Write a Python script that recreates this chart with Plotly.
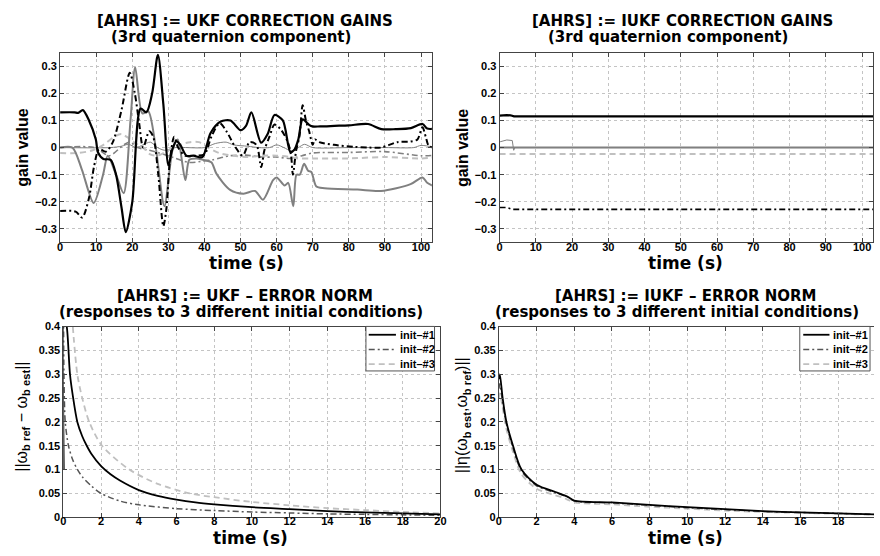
import plotly.graph_objects as go

# ---------------- data ----------------
# UKF correction gains (3rd quaternion component)
ukf_t1 = [0, 4, 5, 6.3, 8, 9.9, 10.5, 12, 14, 15.5, 17, 18.2, 20, 22.3, 23.9, 25.5, 27.1, 28.6, 30, 31, 32.2, 33.3, 35, 37, 39.4, 41.7, 44.5, 47.2, 50, 51.5, 53, 55.7, 57.5, 59.4, 61.7, 63.8, 64.9, 66, 67.2, 69, 69.9, 72, 76, 80, 85.3, 89, 93, 97.2, 100.4, 101.7, 104]
ukf_v1 = [0.13, 0.13, 0.128, 0.138, 0.1, 0.03, -0.018, -0.042, -0.045, -0.1, -0.22, -0.312, -0.2, 0.144, 0.13, 0.2, 0.342, 0.16, -0.066, -0.01, 0.024, 0.01, -0.03, -0.03, -0.035, 0.054, 0.096, 0.1, 0.064, 0.08, 0.13, 0.018, 0.05, 0.12, 0.1, -0.016, -0.008, 0.03, 0.104, 0.084, 0.078, 0.078, 0.08, 0.082, 0.087, 0.068, 0.068, 0.072, 0.087, 0.07, 0.07]

ukf_t2 = [0, 3.4, 6, 9.3, 11.9, 13.2, 15.5, 17.6, 19.5, 20.8, 22.8, 24.4, 26.5, 28.9, 31.2, 32.6, 34.7, 35.8, 37.7, 39.6, 41.9, 43.3, 47.1, 50.8, 54, 56.2, 59, 60, 62.2, 63.2, 64.6, 65.5, 66.4, 67.6, 68.7, 69.6, 71, 73.3, 82.4, 88.9, 97.1, 100.4, 101.7, 104]
ukf_v2 = [0, 0, -0.08, -0.204, -0.1, -0.03, -0.1, -0.168, 0.1, 0.296, 0.126, 0.134, 0.0, -0.216, -0.006, 0.03, -0.12, -0.045, -0.04, -0.045, -0.054, -0.096, -0.156, -0.17, -0.16, -0.192, -0.12, -0.11, -0.14, -0.13, -0.216, -0.1, -0.1, -0.06, -0.085, -0.09, -0.144, -0.15, -0.155, -0.16, -0.135, -0.11, -0.13, -0.145]

ukf_t3 = [0, 4.3, 6.1, 8, 9.4, 10.8, 12.7, 14.6, 17, 19.3, 20.7, 21.9, 23, 24.7, 25.8, 27.2, 28.6, 29.5, 30.4, 31.6, 32.7, 34.6, 37.7, 40, 41.9, 44.2, 46.1, 48.4, 50.6, 52.5, 54.4, 55.7, 56.6, 58, 59.4, 61.2, 63.1, 64, 64.5, 65.4, 66.3, 67.2, 68.1, 69, 70, 70.6, 71.8, 75.9, 81.4, 85.5, 88.9, 93.4, 97.1, 99, 100.4, 101.3, 102.2, 104]
ukf_v3 = [-0.234, -0.236, -0.258, -0.186, -0.07, -0.006, -0.015, 0.02, 0.138, 0.276, 0.2, 0.09, 0.0, 0.06, 0.04, -0.1, -0.29, -0.22, -0.05, 0.04, 0.0, -0.03, -0.03, -0.025, 0.04, 0.09, 0.06, 0.005, -0.03, 0.02, 0.01, -0.072, -0.01, 0.04, 0.085, 0.066, 0.02, -0.03, -0.1, -0.01, 0.04, 0.156, 0.1, 0.06, 0.01, 0.03, 0.02, 0.01, 0.003, 0.0, 0.0, 0.02, 0.022, 0.03, 0.075, 0.04, 0.005, 0.0]

ukf_t4 = [0, 14, 17, 19, 21, 23, 25, 27, 29, 32, 40, 43, 46, 48, 52, 55, 58, 60, 62, 64, 66, 67.7, 70, 80, 90, 98, 100, 104]
ukf_v4 = [0, 0, 0.005, 0.012, 0.0, 0.01, 0.02, 0.0, -0.01, 0.0, 0.0, 0.015, 0.02, 0.01, 0.005, 0.0, 0.0, 0.01, 0.0, -0.012, 0.0, 0.012, 0.0, 0.0, 0.0, 0.0, 0.008, 0.0]

ukf_t5 = [0, 5, 9, 12, 15, 17, 19, 21, 23, 25, 27, 30, 33, 36, 38.5, 41, 44, 48, 52, 56, 60, 64, 66, 70, 75, 80, 90, 100, 104]
ukf_v5 = [-0.02, -0.02, -0.01, 0.01, 0.04, 0.05, 0.035, 0.015, 0.0, -0.025, -0.03, -0.01, 0.01, 0.02, 0.02, 0.0, -0.02, -0.03, -0.035, -0.03, -0.03, -0.035, -0.04, -0.04, -0.04, -0.04, -0.035, -0.04, -0.035]

ukf_t6 = [0, 9.6, 13.6, 17.6, 19.4, 21.5, 24.7, 27.5, 32.1, 35.8, 39.6, 42.3, 47, 51.6, 56, 60, 64, 67, 70, 80, 90, 100, 104]
ukf_v6 = [0, 0, -0.03, 0.01, 0.02, 0.0, -0.01, -0.02, -0.04, -0.055, -0.05, -0.045, -0.03, -0.028, -0.035, -0.035, -0.04, -0.03, -0.02, -0.018, -0.015, -0.03, -0.028]

# IUKF correction gains (3rd quaternion component)
iukf_t1 = [0, 1, 2, 3, 4, 104]
iukf_v1 = [0.118, 0.12, 0.12, 0.119, 0.115, 0.115]
iukf_t2 = [0, 0.3, 2, 3.5, 3.9, 4.2, 104]
iukf_v2 = [0.022, 0.022, 0.028, 0.026, -0.01, 0.0, 0.0]
iukf_t3 = [0, 104]
iukf_v3 = [0.0, 0.0]
iukf_t4 = [0, 104]
iukf_v4 = [-0.024, -0.024]
iukf_t5 = [0, 2, 3.5, 5, 104]
iukf_v5 = [-0.221, -0.221, -0.228, -0.228, -0.228]

# UKF error norm
e1_t = [0.02, 0.05, 0.18, 0.35, 0.5, 0.74, 1.0, 1.24, 1.5, 2, 2.5, 3, 4, 5, 6, 7, 8, 10, 12, 14, 16, 18, 20]
e1_v = [0.1, 0.42, 0.4, 0.3, 0.255, 0.2, 0.17, 0.15, 0.132, 0.107, 0.09, 0.077, 0.057, 0.045, 0.037, 0.031, 0.027, 0.021, 0.017, 0.013, 0.010, 0.008, 0.006]
e2_t = [0.01, 0.03, 0.1, 0.27, 0.5, 0.75, 1.0, 1.5, 2, 3, 4, 6, 8, 10, 12, 14, 16, 18, 20]
e2_v = [0.42, 0.3, 0.2, 0.15, 0.12, 0.1, 0.085, 0.065, 0.05, 0.034, 0.026, 0.018, 0.014, 0.011, 0.009, 0.007, 0.006, 0.005, 0.004]
e3_t = [0.5, 0.74, 1.0, 1.37, 2.05, 3.5, 5, 6.7, 8, 10, 12, 14, 16, 18, 20]
e3_v = [0.4, 0.3, 0.25, 0.2, 0.15, 0.1, 0.07, 0.05, 0.042, 0.032, 0.025, 0.019, 0.015, 0.011, 0.008]

# IUKF error norm
f_t = [0, 0.05, 0.2, 0.4, 0.75, 1.2, 2, 3, 3.4, 3.7, 4, 6, 8, 10, 12, 14, 16, 18, 20]
f1_v = [0.29, 0.3, 0.25, 0.2, 0.15, 0.1, 0.068, 0.053, 0.047, 0.042, 0.035, 0.031, 0.026, 0.021, 0.017, 0.013, 0.01, 0.008, 0.006]
f2_v = [0.27, 0.28, 0.24, 0.195, 0.145, 0.097, 0.066, 0.051, 0.046, 0.041, 0.034, 0.03, 0.025, 0.02, 0.016, 0.012, 0.01, 0.008, 0.006]
f3_v = [0.25, 0.26, 0.23, 0.185, 0.137, 0.09, 0.06, 0.046, 0.041, 0.036, 0.031, 0.027, 0.022, 0.018, 0.014, 0.011, 0.009, 0.007, 0.005]

legend_names = ["init\u2013#1", "init\u2013#2", "init\u2013#3"]

gain_ticks = [-0.3, -0.2, -0.1, 0, 0.1, 0.2, 0.3]
gain_ticktext = ["\u22120.3", "\u22120.2", "\u22120.1", "0", "0.1", "0.2", "0.3"]
time_ticks_long = [0, 10, 20, 30, 40, 50, 60, 70, 80, 90, 100]
norm_ticks = [0, 0.05, 0.1, 0.15, 0.2, 0.25, 0.3, 0.35, 0.4]
norm_ticktext = ["0", "0.05", "0.1", "0.15", "0.2", "0.25", "0.3", "0.35", "0.4"]
time_ticks_short = [0, 2, 4, 6, 8, 10, 12, 14, 16, 18, 20]

# ---------------- styles ----------------
BLACK = "#000000"
GRAY = "#808080"
DGRAY = "#555555"
LGRAY = "#c0c0c0"
DASHDOT = "6px,3px,2px,3px"
DASH = "6px,4px"

fig = go.Figure()

def add(x, y, color, width, dash, xa, ya, shape="spline"):
    fig.add_trace(go.Scatter(x=x, y=y, mode="lines", xaxis=xa, yaxis=ya,
                             line=dict(color=color, width=width, dash=dash, shape=shape, smoothing=0.8),
                             showlegend=False, hoverinfo="skip"))

# top-left
add(ukf_t4, ukf_v4, GRAY, 1, "solid", "x", "y")
add(ukf_t6, ukf_v6, GRAY, 1.6, DASHDOT, "x", "y")
add(ukf_t5, ukf_v5, LGRAY, 2, DASH, "x", "y")
add(ukf_t2, ukf_v2, GRAY, 2, "solid", "x", "y")
add(ukf_t3, ukf_v3, BLACK, 2, DASHDOT, "x", "y")
add(ukf_t1, ukf_v1, BLACK, 2.2, "solid", "x", "y")
# top-right
add(iukf_t3, iukf_v3, GRAY, 2, "solid", "x2", "y2", "linear")
add(iukf_t2, iukf_v2, GRAY, 1, "solid", "x2", "y2", "linear")
add(iukf_t4, iukf_v4, LGRAY, 2, DASH, "x2", "y2", "linear")
add(iukf_t5, iukf_v5, BLACK, 1.6, DASHDOT, "x2", "y2", "linear")
add(iukf_t1, iukf_v1, BLACK, 2.2, "solid", "x2", "y2", "linear")
# bottom-left
add(e3_t, e3_v, LGRAY, 1.8, DASH, "x3", "y3")
add(e2_t, e2_v, DGRAY, 1.5, DASHDOT, "x3", "y3")
add(e1_t, e1_v, BLACK, 1.8, "solid", "x3", "y3")
# bottom-right
add(f_t, f3_v, LGRAY, 1.8, DASH, "x4", "y4")
add(f_t, f2_v, DGRAY, 1.5, DASHDOT, "x4", "y4")
add(f_t, f1_v, BLACK, 1.8, "solid", "x4", "y4")

W, H = 880, 556
def px(v): return v / W
def py(v): return 1 - v / H

tickfont = dict(family="Liberation Sans", size=11, color="black", weight="bold")
axcommon = dict(showline=True, linecolor="#444444", linewidth=1, mirror="ticks",
                ticks="inside", ticklen=4, tickcolor="#444444",
                showgrid=True, gridcolor="#c4c4c4", griddash="dot", gridwidth=1,
                zeroline=False, tickfont=tickfont)
xcommon = dict(axcommon, ticklabelstandoff=-6)

top_y = [py(241.7), py(47.7)]
bot_y = [py(522.5), py(327.7)]

fig.update_layout(
    width=W, height=H, margin=dict(l=0, r=0, t=0, b=0),
    paper_bgcolor="white", plot_bgcolor="white", showlegend=False,
    xaxis=dict(domain=[px(57.7), px(433.3)], range=[0, 103], tickvals=time_ticks_long, anchor="y", **xcommon),
    yaxis=dict(domain=top_y, range=[-0.35, 0.35], tickvals=gain_ticks, ticktext=gain_ticktext, anchor="x", **axcommon),
    xaxis2=dict(domain=[px(501.7), px(879)], range=[0, 103], tickvals=time_ticks_long, anchor="y2", **xcommon),
    yaxis2=dict(domain=top_y, range=[-0.35, 0.35], tickvals=gain_ticks, ticktext=gain_ticktext, anchor="x2", **axcommon),
    xaxis3=dict(domain=[px(61), px(442)], range=[0, 20], tickvals=time_ticks_short, anchor="y3", **xcommon),
    yaxis3=dict(domain=bot_y, range=[0, 0.4], tickvals=norm_ticks, ticktext=norm_ticktext, anchor="x3", **axcommon),
    xaxis4=dict(domain=[px(501), 1.0], range=[0, 19.9], tickvals=time_ticks_short, anchor="y4", **xcommon),
    yaxis4=dict(domain=bot_y, range=[0, 0.4], tickvals=norm_ticks, ticktext=norm_ticktext, anchor="x4",
                **{**axcommon, "mirror": False}),
)

TF = dict(family="DejaVu Sans", size=15, color="black", weight="bold")
XF = dict(family="DejaVu Sans", size=17, color="black", weight="bold")
YF = dict(family="Liberation Sans", size=16, color="black", weight="bold")
LF = dict(family="Liberation Sans", size=16, color="black")

anns = [
    (244, 15, "[AHRS] := UKF CORRECTION GAINS", TF, 0),
    (230, 32, "(3rd quaternion component)", TF, 0),
    (687, 15, "[AHRS] := IUKF CORRECTION GAINS", TF, 0),
    (672, 32, "(3rd quaternion component)", TF, 0),
    (244, 296, "[AHRS] := UKF \u2013 ERROR NORM", TF, 0),
    (240, 313, "(responses to 3 different initial conditions)", TF, 0),
    (690, 296, "[AHRS] := IUKF \u2013 ERROR NORM", TF, 0),
    (681, 313, "(responses to 3 different initial conditions)", TF, 0),
    (246, 263, "time (s)", XF, 0),
    (690, 263, "time (s)", XF, 0),
    (250, 544, "time (s)", XF, 0),
    (690, 544, "time (s)", XF, 0),
    (20, 145, "gain value", YF, -90),
    (465, 145, "gain value", YF, -90),
    (20, 420, "||\u03c9<sub><b>b ref</b></sub> \u2212 \u03c9<sub><b>b est</b></sub>||", LF, -90),
    (465, 418, "||\u03b7(\u03c9<sub><b>b est</b></sub>,\u03c9<sub><b>b ref</b></sub>)||", LF, -90),
]
for x, y, text, font, ang in anns:
    fig.add_annotation(x=px(x), y=py(y), xref="paper", yref="paper", text=text, showarrow=False,
                       font=font, textangle=ang, xanchor="center", yanchor="middle")

# legends (drawn as boxes with sample lines)
LEGF = dict(family="Liberation Sans", size=11, color="black", weight="bold")
leg_styles = [(BLACK, 1.8, "solid"), (DGRAY, 1.5, DASHDOT), (LGRAY, 1.8, DASH)]
rows = [336, 351, 366]
for (bx0, bx1, lx0, lx1, tx) in [(366.7, 436, 369.5, 397, 399), (805, 876, 808.5, 835, 837)]:
    fig.add_shape(type="rect", xref="paper", yref="paper", x0=px(bx0), x1=px(bx1), y0=py(373), y1=py(327.5),
                  line=dict(color="#555555", width=1), fillcolor="white", layer="above")
    for (c, w, d), ry, name in zip(leg_styles, rows, legend_names):
        fig.add_shape(type="line", xref="paper", yref="paper", x0=px(lx0), x1=px(lx1), y0=py(ry), y1=py(ry),
                      line=dict(color=c, width=w, dash=d), layer="above")
        fig.add_annotation(x=px(tx), y=py(ry), xref="paper", yref="paper", text=name, showarrow=False,
                           font=LEGF, xanchor="left", yanchor="middle")

fig.write_html("out.html", config={"displayModeBar": False, "staticPlot": True},
               post_script="document.documentElement.style.margin='0px';document.documentElement.style.overflow='hidden';"
                           "document.body.style.margin='0px';document.body.style.overflow='hidden';")
